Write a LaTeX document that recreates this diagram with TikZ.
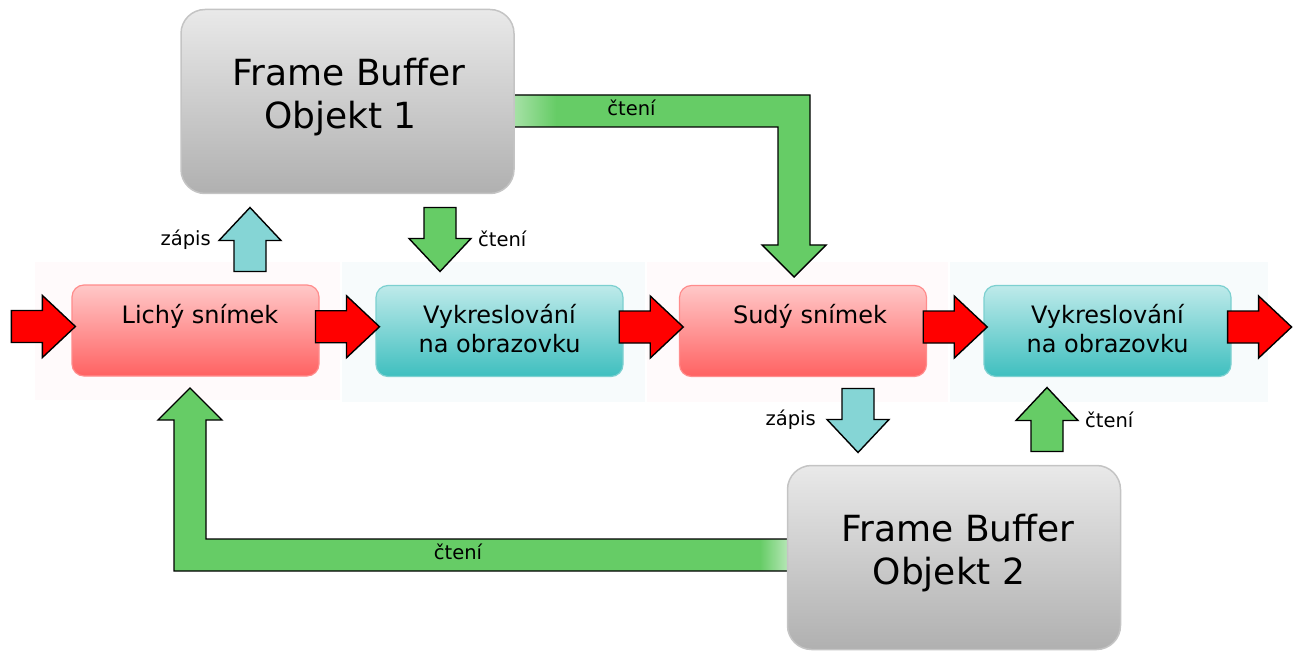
\documentclass[tikz,border=0pt]{standalone}
\usepackage{fontspec}
\setmainfont{DejaVu Sans}
\usetikzlibrary{calc}
\definecolor{arred}{HTML}{FF0000}
\definecolor{argreen}{HTML}{66CC66}
\definecolor{argreenlt}{HTML}{B4E6B4}
\definecolor{arteal}{HTML}{85D5D5}
\definecolor{redtop}{HTML}{FFC8C8}
\definecolor{redbot}{HTML}{FF6262}
\definecolor{redborder}{HTML}{FF8C8C}
\definecolor{tealtop}{HTML}{BEEAEA}
\definecolor{tealbot}{HTML}{3FBFBF}
\definecolor{tealborder}{HTML}{7CD0D0}
\definecolor{graytop}{HTML}{E9E9E9}
\definecolor{graybot}{HTML}{B0B0B0}
\definecolor{grayborder}{HTML}{C4C4C4}
\definecolor{bgpink}{HTML}{FFFAFB}
\definecolor{bgcyan}{HTML}{F7FBFC}
\begin{document}
\begin{tikzpicture}[x=1pt,y=-1pt,
  fbo/.style={rounded corners=24pt, draw=grayborder, line width=1.5pt, top color=graytop, bottom color=graybot, minimum width=333pt, minimum height=184pt, align=center, font=\fontsize{36}{43}\selectfont, inner sep=0pt},
  stage/.style={rounded corners=12pt, line width=1.2pt, minimum width=247pt, minimum height=91pt, align=center, font=\fontsize{24}{29}\selectfont, inner sep=0pt},
  oddeven/.style={stage, draw=redborder, top color=redtop, bottom color=redbot},
  render/.style={stage, draw=tealborder, top color=tealtop, bottom color=tealbot},
  lbl/.style={font=\fontsize{19.5}{23}\selectfont, inner sep=0pt},
  blockarrow/.style={draw=black, line width=1.4pt, line join=miter},
  pics/harrow/.style={code={\draw[blockarrow, fill=#1] (-32,-16) -- (-1,-16) -- (-1,-31) -- (32,0) -- (-1,31) -- (-1,16) -- (-32,16) -- cycle;}},
]
\useasboundingbox (0,0) rectangle (1300,660);
% faint background panels
\fill[bgpink] (35,262) rectangle (340,400);
\fill[bgcyan] (342,262) rectangle (645,402);
\fill[bgpink] (647,262) rectangle (948,402);
\fill[bgcyan] (950,262) rectangle (1268,402);
% big L arrow: FBO1 -> Sudy
\fill[argreen] (505,95) -- (810,95) -- (810,245) -- (826,245) -- (794,277) -- (762,245) -- (778,245) -- (778,127) -- (505,127) -- cycle;
\shade[left color=argreenlt, right color=argreen] (505,95.7) rectangle (556,126.3);
\draw[blockarrow] (505,95) -- (810,95) -- (810,245) -- (826,245) -- (794,277) -- (762,245) -- (778,245) -- (778,127) -- (505,127);
% big L arrow: FBO2 -> Lichy
\fill[argreen] (787,539) -- (206,539) -- (206,420) -- (222,420) -- (190,388) -- (158,420) -- (174,420) -- (174,571) -- (787,571) -- cycle;
\shade[left color=argreen, right color=argreenlt] (760,539.7) rectangle (787,570.3);
\draw[blockarrow] (787,539) -- (206,539) -- (206,420) -- (222,420) -- (190,388) -- (158,420) -- (174,420) -- (174,571) -- (787,571);
% nodes
\node[fbo] (fbo1) at (347.5,101.5) {\hspace*{3pt}Frame Buffer\\Objekt 1\hspace*{14pt}\rule[-16pt]{0pt}{0pt}};
\node[fbo] (fbo2) at (954,557.5) {\hspace*{8pt}Frame Buffer\\Objekt 2\hspace*{10pt}\rule[-16pt]{0pt}{0pt}};
\node[oddeven] (lichy) at (195.5,330.5) {\hspace*{9pt}Lichý snímek\\\vphantom{Ly}};
\node[render] (vykr1) at (499.5,331) {Vykreslování\\na obrazovku\vphantom{y}};
\node[oddeven] (sudy) at (803,331) {\hspace*{14pt}Sudý snímek\\\vphantom{Ly}};
\node[render] (vykr2) at (1107.5,331) {Vykreslování\\na obrazovku\vphantom{y}};
% red flow arrows
\pic at ($(lichy.west)+(-28,-4)$) {harrow=arred};
\pic at ($(lichy.east)!0.5!(vykr1.west)+(0,-4)$) {harrow=arred};
\pic at ($(vykr1.east)!0.5!(sudy.west)+(0,-4)$) {harrow=arred};
\pic at ($(sudy.east)!0.5!(vykr2.west)+(0,-4)$) {harrow=arred};
\pic at ($(vykr2.east)+(28,-4)$) {harrow=arred};
% short vertical arrows
\pic[rotate=90] at (250,239.5) {harrow=arteal};
\pic[rotate=-90] at (440,239.5) {harrow=argreen};
\pic[rotate=-90] at (858,420.5) {harrow=arteal};
\pic[rotate=90] at (1047,419.5) {harrow=argreen};
% labels
\node[lbl, anchor=base east] (l1) at (211,246) {zápis};
\node[lbl, anchor=base west] (l2) at (478,246.5) {čtení};
\node[lbl, anchor=base] (l3) at (631.5,116) {čtení};
\node[lbl, anchor=base east] (l4) at (816,425.5) {zápis};
\node[lbl, anchor=base west] (l5) at (1085,427) {čtení};
\node[lbl, anchor=base] (l6) at (458,559) {čtení};
\end{tikzpicture}
\end{document}
